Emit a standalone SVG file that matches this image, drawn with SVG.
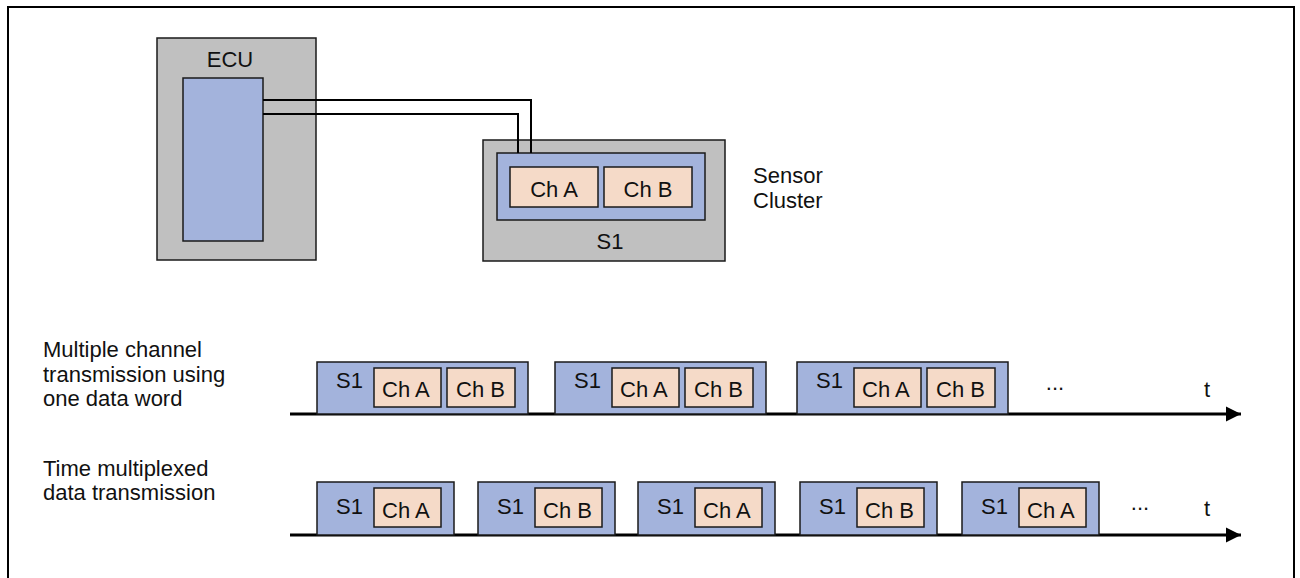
<svg xmlns="http://www.w3.org/2000/svg" width="1300" height="578" viewBox="0 0 1300 578">
<style>
text{font-family:"Liberation Sans",Arial,sans-serif;font-size:22px;fill:#111}
.gray{fill:#c0c0c0;stroke:#1a1a1a;stroke-width:1.5}
.blue{fill:#a3b3dc;stroke:#1a1a1a;stroke-width:1.5}
.peach{fill:#f5dac8;stroke:#1a1a1a;stroke-width:1.5}
.wire{fill:none;stroke:#000;stroke-width:2}
.axis{fill:none;stroke:#000;stroke-width:3}
.mid{text-anchor:middle}
</style>
<defs>
<marker id="arr" markerUnits="userSpaceOnUse" markerWidth="16" markerHeight="16" refX="15" refY="8" orient="auto">
<path d="M0,0.5 L15,8 L0,15.5 Z" fill="#000"/>
</marker>
<g id="pk2">
<rect class="blue" x="0" y="0" width="211" height="52"/>
<text x="19" y="26">S1</text>
<rect class="peach" x="57" y="6" width="67" height="39"/>
<text x="65" y="35">Ch A</text>
<rect class="peach" x="130" y="6" width="68" height="39"/>
<text x="139" y="35">Ch B</text>
</g>
<g id="pkA">
<rect class="blue" x="0" y="0" width="137" height="53"/>
<text x="19" y="32">S1</text>
<rect class="peach" x="57" y="6" width="67" height="39"/>
<text x="65" y="36">Ch A</text>
</g>
<g id="pkB">
<rect class="blue" x="0" y="0" width="137" height="53"/>
<text x="19" y="32">S1</text>
<rect class="peach" x="57" y="6" width="67" height="39"/>
<text x="65" y="36">Ch B</text>
</g>
</defs>
<rect x="0" y="0" width="1300" height="578" fill="#fff"/>
<rect x="8" y="7" width="1286" height="590" fill="none" stroke="#000" stroke-width="2"/>

<g id="ecu">
<rect class="gray" x="157" y="38" width="159" height="222"/>
<text class="mid" x="230" y="67">ECU</text>
<rect class="blue" x="183" y="78" width="80" height="163"/>
</g>

<g id="sensor-cluster">
<rect class="gray" x="483" y="140" width="242" height="121"/>
<rect class="blue" x="497" y="153" width="208" height="67"/>
<rect class="peach" x="510" y="167" width="88" height="40"/>
<text class="mid" x="554" y="197">Ch A</text>
<rect class="peach" x="604" y="167" width="88" height="40"/>
<text class="mid" x="648" y="197">Ch B</text>
<text class="mid" x="610" y="249">S1</text>
</g>
<g id="sensor-label">
<text x="753" y="183">Sensor</text>
<text x="753" y="208">Cluster</text>
</g>

<g id="connectors">
<polyline class="wire" points="263,100 531,100 531,153"/>
<polyline class="wire" points="263,114 518,114 518,153"/>
<line class="axis" x1="290" y1="414" x2="1241" y2="414" marker-end="url(#arr)"/>
<line class="axis" x1="290" y1="535" x2="1241" y2="535" marker-end="url(#arr)"/>
</g>

<g id="row1-label">
<text x="43" y="357">Multiple channel</text>
<text x="43" y="382">transmission using</text>
<text x="43" y="406">one data word</text>
</g>
<g id="row1">
<use href="#pk2" x="317" y="362"/>
<use href="#pk2" x="555" y="362"/>
<use href="#pk2" x="797" y="362"/>
<text class="mid" x="1055" y="390">...</text>
<text x="1204" y="397">t</text>
</g>

<g id="row2-label">
<text x="43" y="476">Time multiplexed</text>
<text x="43" y="500">data transmission</text>
</g>
<g id="row2">
<use href="#pkA" x="317" y="482"/>
<use href="#pkB" x="478" y="482"/>
<use href="#pkA" x="638" y="482"/>
<use href="#pkB" x="800" y="482"/>
<use href="#pkA" x="962" y="482"/>
<text class="mid" x="1140" y="510">...</text>
<text x="1204" y="516">t</text>
</g>
</svg>
